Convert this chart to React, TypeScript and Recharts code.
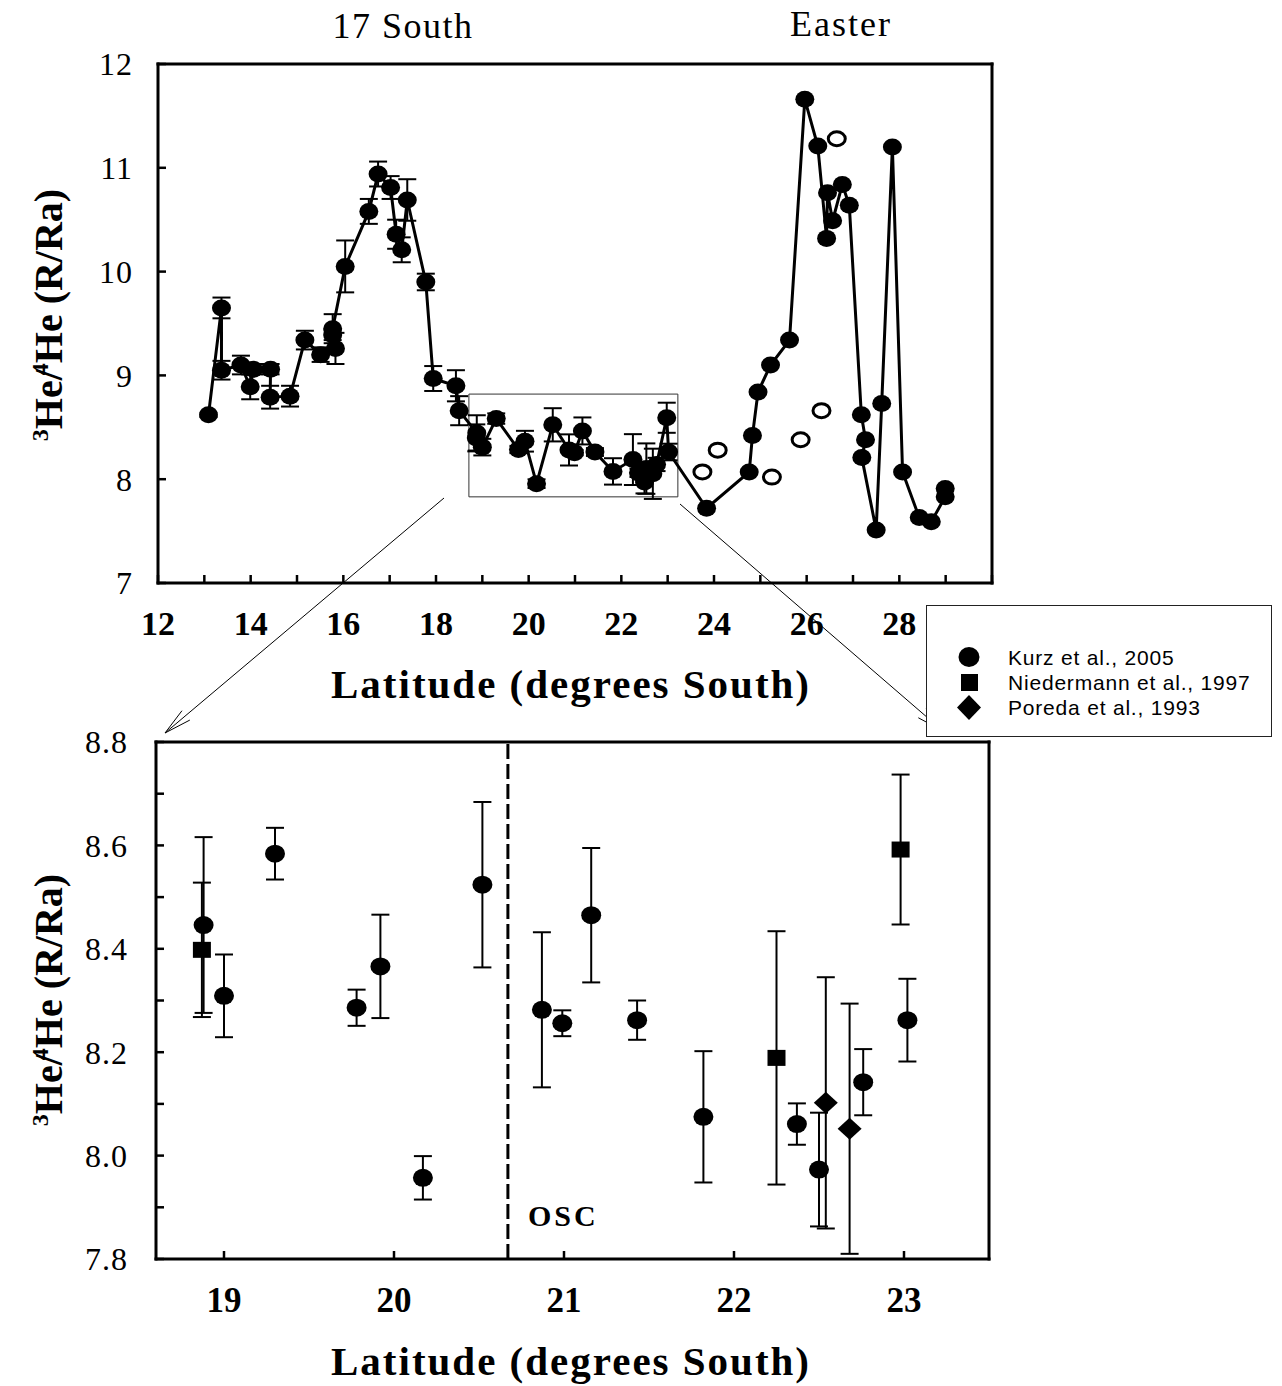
import React from 'react';
import { ScatterChart, Scatter, XAxis, YAxis, ErrorBar, ReferenceArea, ReferenceLine } from 'recharts';

// ---------- Top panel data (Kurz et al., 2005 along-axis profile) ----------
const topLat = [
  13.09, 13.37, 13.37, 13.79, 13.99, 14.06, 14.43, 14.42, 14.85, 15.17, 15.51, 15.83, 15.77, 15.77,
  16.04, 16.55, 16.75, 17.02, 17.14, 17.26, 17.38, 17.78, 17.94, 18.43, 18.5, 18.88, 18.87, 19.0,
  19.3, 19.78, 19.92, 20.17, 20.52, 20.87, 20.99, 21.16, 21.43, 21.82, 22.25, 22.37, 22.5, 22.54,
  22.68, 22.76, 22.98, 23.02, 23.84, 24.76, 24.83, 24.95, 25.22, 25.63, 25.96, 26.24, 26.43, 26.45,
  26.56, 26.77, 26.92, 27.18, 27.27, 27.19, 27.5, 27.62, 27.85, 28.07, 28.43, 28.69, 28.99, 28.99,
];
const topRatio = [
  8.62, 9.65, 9.05, 9.1, 8.89, 9.06, 9.06, 8.79, 8.8, 9.34, 9.2, 9.26, 9.39, 9.45,
  10.05, 10.58, 10.94, 10.81, 10.36, 10.21, 10.69, 9.9, 8.97, 8.9, 8.66, 8.446, 8.398, 8.309,
  8.584, 8.286, 8.366, 7.957, 8.524, 8.282, 8.256, 8.465, 8.262, 8.075, 8.189, 8.061, 7.973, 8.102,
  8.052, 8.142, 8.592, 8.262, 7.72, 8.07, 8.42, 8.84, 9.1, 9.34, 11.66, 11.21, 10.32, 10.76,
  10.49, 10.84, 10.64, 8.62, 8.38, 8.21, 7.51, 8.73, 11.2, 8.07, 7.63, 7.59, 7.83, 7.91,
];
const topErr = [
  0.02, 0.1, 0.09, 0.09, 0.12, 0.05, 0.05, 0.11, 0.1, 0.09, 0.07, 0.15, 0.05, 0.14,
  0.25, 0.12, 0.12, 0.11, 0.14, 0.12, 0.2, 0.08, 0.12, 0.15, 0.14, 0.17, 0.13, 0.08,
  0.05, 0.035, 0.1, 0.042, 0.16, 0.15, 0.025, 0.13, 0.038, 0.127, 0.245, 0.04, 0.11, 0.243,
  0.242, 0.064, 0.145, 0.08, 0, 0, 0, 0, 0, 0, 0, 0, 0, 0,
  0, 0, 0, 0, 0, 0, 0, 0, 0, 0, 0, 0, 0, 0,
];
const openLat = [23.75, 24.08, 25.25, 25.87, 26.32, 26.65];
const openRatio = [8.07, 8.28, 8.02, 8.38, 8.66, 11.28];
const topXTicks = [12, 13, 14, 15, 16, 17, 18, 19, 20, 21, 22, 23, 24, 25, 26, 27, 28, 29, 30];
const topYTicks = [7, 8, 9, 10, 11, 12];
const zoomWindow = { lat1: 18.71, lat2: 23.22, r1: 7.83, r2: 8.82 };

// ---------- Bottom panel data (18.6 - 23.5 S) ----------
const kurzLat = [18.88, 19.0, 19.3, 19.78, 19.92, 20.17, 20.52, 20.87, 20.99, 21.16, 21.43, 21.82, 22.37, 22.5, 22.76, 23.02];
const kurzRatio = [8.446, 8.309, 8.584, 8.286, 8.366, 7.957, 8.524, 8.282, 8.256, 8.465, 8.262, 8.075, 8.061, 7.973, 8.142, 8.262];
const kurzErr = [0.17, 0.08, 0.05, 0.035, 0.1, 0.042, 0.16, 0.15, 0.025, 0.13, 0.038, 0.127, 0.04, 0.11, 0.064, 0.08];
const niedLat = [18.87, 22.25, 22.98];
const niedRatio = [8.398, 8.189, 8.592];
const niedErr = [0.13, 0.245, 0.145];
const poredaLat = [22.54, 22.68];
const poredaRatio = [8.102, 8.052];
const poredaErr = [0.243, 0.242];
const bottomXTicks = [19, 20, 21, 22, 23];
const bottomYTicks = [7.8, 7.9, 8.0, 8.1, 8.2, 8.3, 8.4, 8.5, 8.6, 8.7, 8.8];
const oscLatitude = 20.67;

const legendItems = ['Kurz et al., 2005', 'Niedermann et al., 1997', 'Poreda et al., 1993'];

const zip = (xs: number[], ys: number[], es?: number[]) =>
  xs.map((x, i) => ({ x, y: ys[i], e: es ? es[i] : 0 }));

const topData = zip(topLat, topRatio, topErr);
const openData = zip(openLat, openRatio);
const kurzData = zip(kurzLat, kurzRatio, kurzErr);
const niedData = zip(niedLat, niedRatio, niedErr);
const poredaData = zip(poredaLat, poredaRatio, poredaErr);

const SERIF = "'Liberation Serif', 'Times New Roman', serif";
const SANS = "'Liberation Sans', Arial, sans-serif";

const FilledDot = (rx: number, ry: number) => (p: any) =>
  <ellipse cx={p.cx} cy={p.cy} rx={rx} ry={ry} fill="#000" />;
const OpenDot = (p: any) =>
  <ellipse cx={p.cx} cy={p.cy} rx={8.5} ry={7} fill="#fff" stroke="#000" strokeWidth={3} />;
const SquareDot = (p: any) =>
  <rect x={p.cx - 9} y={p.cy - 8} width={18} height={16} fill="#000" />;
const DiamondDot = (p: any) =>
  <polygon points={`${p.cx},${p.cy - 11} ${p.cx + 12},${p.cy} ${p.cx},${p.cy + 11} ${p.cx - 12},${p.cy}`} fill="#000" />;

const axisLine = { stroke: '#000', strokeWidth: 3, strokeLinecap: 'square' as const };

// Axis ticks point into the plot; labels stay outside.
const TS = 8;      // tickSize given to recharts (used for label placement)
const TICK_IN = 8; // inward tick length
type Side = 'bottom' | 'top' | 'left' | 'right';
function makeTick(side: Side, tm: number, fmt: ((v: number) => string) | null, style: any) {
  return (p: any) => {
    const { x, y, payload } = p;
    const ls = { stroke: '#000', strokeWidth: 2.5 };
    let line: any = null;
    let label: any = null;
    const txt = fmt ? fmt(payload.value) : '';
    if (side === 'bottom') {
      const ay = y - TS - tm;
      line = <line x1={x} x2={x} y1={ay} y2={ay - TICK_IN} {...ls} />;
      if (txt) label = <text x={x} y={y} dy="0.71em" textAnchor="middle" {...style}>{txt}</text>;
    } else if (side === 'top') {
      const ay = y + TS + tm;
      line = <line x1={x} x2={x} y1={ay} y2={ay + TICK_IN} {...ls} />;
    } else if (side === 'left') {
      const ax = x + TS + tm;
      line = <line x1={ax} x2={ax + TICK_IN} y1={y} y2={y} {...ls} />;
      if (txt) label = <text x={x} y={y} dy="0.355em" textAnchor="end" {...style}>{txt}</text>;
    } else {
      const ax = x - TS - tm;
      line = <line x1={ax} x2={ax - TICK_IN} y1={y} y2={y} {...ls} />;
    }
    return <g>{line}{label}</g>;
  };
}

const boldTick = { fill: '#000', fontSize: 34, fontWeight: 'bold', fontFamily: SERIF };
const boldTickB = { fill: '#000', fontSize: 35, fontWeight: 'bold', fontFamily: SERIF };
const plainTick = { fill: '#000', fontSize: 32, fontFamily: SERIF, letterSpacing: 1 };

const fmtTopX = (v: number) => (v % 2 === 0 && v <= 28 ? String(v) : '');
const fmtInt = (v: number) => String(v);
const fmtBotY = (v: number) => (Math.round(v * 10) % 2 === 0 ? v.toFixed(1) : '');

function arrow(x1: number, y1: number, x2: number, y2: number, key: string) {
  const a = Math.atan2(y2 - y1, x2 - x1);
  const L = 28, s = 0.22;
  const p1 = [x2 - L * Math.cos(a - s), y2 - L * Math.sin(a - s)];
  const p2 = [x2 - L * Math.cos(a + s), y2 - L * Math.sin(a + s)];
  return (
    <g key={key} stroke="#000" strokeWidth={1} fill="none">
      <line x1={x1} y1={y1} x2={x2} y2={y2} />
      <polyline points={`${p1[0]},${p1[1]} ${x2},${y2} ${p2[0]},${p2[1]}`} />
    </g>
  );
}

function YTitle({ cx, cy }: { cx: number; cy: number }) {
  return (
    <text transform={`translate(${cx},${cy}) rotate(-90)`} textAnchor="middle" fontFamily={SERIF}
      fontWeight="bold" fontSize={40} fill="#000">
      <tspan fontSize={24} dy={-14}>3</tspan>
      <tspan dy={14}>He/</tspan>
      <tspan fontSize={24} dy={-14} dx={-6}>4</tspan>
      <tspan dy={14}>He (R/Ra)</tspan>
    </text>
  );
}

export default function App() {
  return (
    <div style={{ position: 'absolute', left: 0, top: 0, width: 1282, height: 1386, background: '#fff' }}>
      {/* Top panel */}
      <div style={{ position: 'absolute', left: 0, top: 0 }}>
        <ScatterChart width={1000} height={720} margin={{ top: 63, left: 157, right: 7, bottom: 136 }}>
          <XAxis dataKey="x" type="number" domain={[12, 30]} ticks={topXTicks} height={1}
            axisLine={axisLine} tickLine={false} tickSize={TS} tickMargin={20}
            tick={makeTick('bottom', 20, fmtTopX, boldTick)} interval={0} />
          <XAxis xAxisId="top" orientation="top" dataKey="x" type="number" domain={[12, 30]} ticks={topXTicks}
            height={1} axisLine={axisLine} tickLine={false} tickSize={TS} tickMargin={0}
            tick={makeTick('top', 0, null, {})} interval={0} />
          <YAxis dataKey="y" type="number" domain={[7, 12]} ticks={topYTicks} width={1}
            axisLine={axisLine} tickLine={false} tickSize={TS} tickMargin={17}
            tick={makeTick('left', 17, fmtInt, plainTick)} interval={0} />
          <YAxis yAxisId="right" orientation="right" dataKey="y" type="number" domain={[7, 12]} ticks={topYTicks}
            width={1} axisLine={axisLine} tickLine={false} tickSize={TS} tickMargin={0}
            tick={makeTick('right', 0, null, {})} interval={0} />
          <ReferenceArea x1={zoomWindow.lat1} x2={zoomWindow.lat2} y1={zoomWindow.r1} y2={zoomWindow.r2}
            fill="none" fillOpacity={0} stroke="#333" strokeWidth={1} ifOverflow="visible" />
          <Scatter data={topData} line={{ stroke: '#000', strokeWidth: 3 }} lineJointType="linear"
            shape={FilledDot(9.5, 8.5)} isAnimationActive={false}>
            <ErrorBar dataKey="e" direction="y" width={9} stroke="#000" strokeWidth={2} isAnimationActive={false} />
          </Scatter>
          <Scatter data={openData} shape={OpenDot} isAnimationActive={false} />
        </ScatterChart>
      </div>

      {/* Bottom panel */}
      <div style={{ position: 'absolute', left: 0, top: 690 }}>
        <ScatterChart width={1000} height={696} margin={{ top: 51, left: 155, right: 10, bottom: 126 }}>
          <XAxis dataKey="x" type="number" domain={[18.6, 23.5]} ticks={bottomXTicks} height={1}
            axisLine={axisLine} tickLine={false} tickSize={TS} tickMargin={20}
            tick={makeTick('bottom', 20, fmtInt, boldTickB)} interval={0} />
          <XAxis xAxisId="top" orientation="top" dataKey="x" type="number" domain={[18.6, 23.5]} ticks={bottomXTicks}
            height={1} axisLine={axisLine} tickLine={false} tickSize={TS} tickMargin={0}
            tick={makeTick('top', 0, null, {})} interval={0} />
          <YAxis dataKey="y" type="number" domain={[7.8, 8.8]} ticks={bottomYTicks} width={1}
            axisLine={axisLine} tickLine={false} tickSize={TS} tickMargin={20}
            tick={makeTick('left', 20, fmtBotY, plainTick)} interval={0} />
          <YAxis yAxisId="right" orientation="right" dataKey="y" type="number" domain={[7.8, 8.8]} ticks={bottomYTicks}
            width={1} axisLine={axisLine} tickLine={false} tickSize={TS} tickMargin={0}
            tick={makeTick('right', 0, null, {})} interval={0} />
          <ReferenceLine x={oscLatitude} stroke="#000" strokeWidth={3} strokeDasharray="15 5" />
          <Scatter data={kurzData} shape={FilledDot(10, 9)} isAnimationActive={false}>
            <ErrorBar dataKey="e" direction="y" width={9} stroke="#000" strokeWidth={2} isAnimationActive={false} />
          </Scatter>
          <Scatter data={niedData} shape={SquareDot} isAnimationActive={false}>
            <ErrorBar dataKey="e" direction="y" width={9} stroke="#000" strokeWidth={2} isAnimationActive={false} />
          </Scatter>
          <Scatter data={poredaData} shape={DiamondDot} isAnimationActive={false}>
            <ErrorBar dataKey="e" direction="y" width={9} stroke="#000" strokeWidth={2} isAnimationActive={false} />
          </Scatter>
        </ScatterChart>
      </div>

      {/* Annotations, titles and legend */}
      <svg width={1282} height={1386} style={{ position: 'absolute', left: 0, top: 0, pointerEvents: 'none' }}>
        <text x={403} y={38} textAnchor="middle" fontFamily={SERIF} fontSize={36} letterSpacing={1.5} fill="#000">17 South</text>
        <text x={841} y={36} textAnchor="middle" fontFamily={SERIF} fontSize={36} letterSpacing={2} fill="#000">Easter</text>
        <YTitle cx={62} cy={315} />
        <YTitle cx={62} cy={1000} />
        <text x={571} y={698} textAnchor="middle" fontFamily={SERIF} fontWeight="bold" fontSize={41} letterSpacing={2} fill="#000">Latitude (degrees South)</text>
        <text x={571} y={1375} textAnchor="middle" fontFamily={SERIF} fontWeight="bold" fontSize={41} letterSpacing={2} fill="#000">Latitude (degrees South)</text>
        <text x={528} y={1226} fontFamily={SERIF} fontWeight="bold" fontSize={30} letterSpacing={3} fill="#000">OSC</text>
        {arrow(444, 498, 165, 733, 'la')}
        {arrow(680, 504, 943, 731, 'ra')}
        <g>
          <rect x={926.5} y={605.5} width={345} height={131} fill="#fff" stroke="#222" strokeWidth={1} />
          <ellipse cx={969} cy={657} rx={10.5} ry={10} fill="#000" />
          <rect x={961} y={674} width={17} height={17} fill="#000" />
          <polygon points="969,695 981,707.5 969,720 957,707.5" fill="#000" />
          {legendItems.map((t, i) => (
            <text key={t} x={1008} y={665 + i * 25} fontFamily={SANS} fontSize={21} letterSpacing={0.8} fill="#000">{t}</text>
          ))}
        </g>
      </svg>
    </div>
  );
}
